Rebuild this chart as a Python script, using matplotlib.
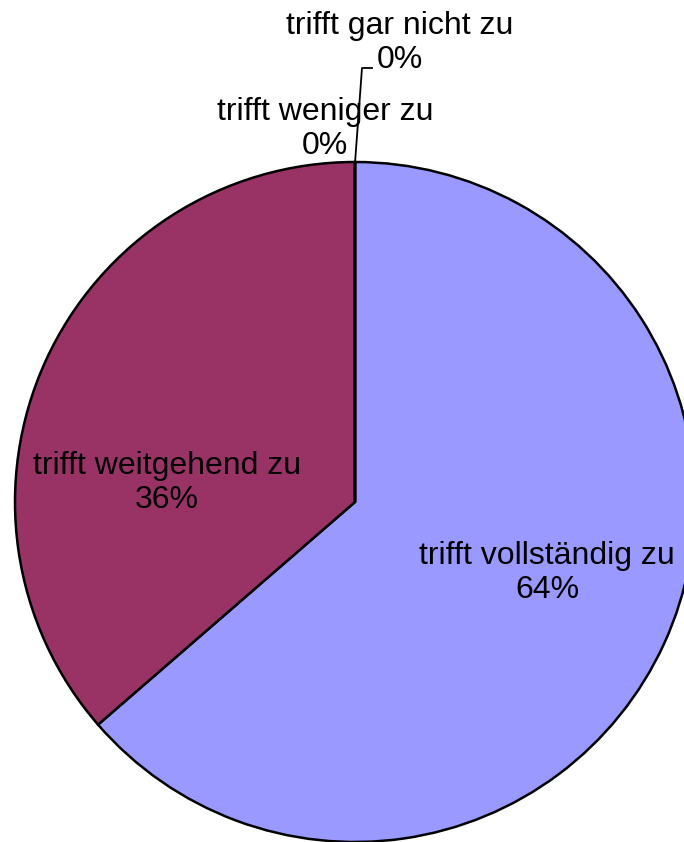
import matplotlib
matplotlib.use("Agg")
import matplotlib.pyplot as plt

plt.rcParams['font.family'] = ['Liberation Sans', 'DejaVu Sans']

categories = ['trifft vollständig zu', 'trifft weitgehend zu',
              'trifft weniger zu', 'trifft gar nicht zu']
counts = [7, 4, 0, 0]
colors = ['#9999FF', '#993366', '#FFFFCC', '#CCFFFF']

total = float(sum(counts))
pct = [int(round(100.0 * c / total)) for c in counts]
labels = ['%s\n%d%%' % (c, p) for c, p in zip(categories, pct)]

fig = plt.figure(figsize=(6.84, 8.42), dpi=100)
ax = fig.add_axes([0, 0, 1, 1])

cx, cy, r = 355, 340, 340
ax.pie(counts, colors=colors, startangle=90, counterclock=False,
       center=(cx, cy), radius=r, frame=True,
       wedgeprops={'edgecolor': 'black', 'linewidth': 1.8})
ax.set_xlim(0, 684)
ax.set_ylim(0, 842)
ax.set_aspect('equal')
ax.axis('off')

fs = 23
# label positions (pixel layout, y from bottom)
pos = [(547, 269), (167, 359), (325, 713), (400, 799)]
for lab, (x, y) in zip(labels, pos):
    ax.text(x, y, lab, ha='center', va='center', fontsize=fs, linespacing=1.2)

# leader line for the last zero slice
ax.plot([355, 362, 372], [679, 774, 774], color='black', lw=1.3)

fig.savefig('out.png', dpi=100)
